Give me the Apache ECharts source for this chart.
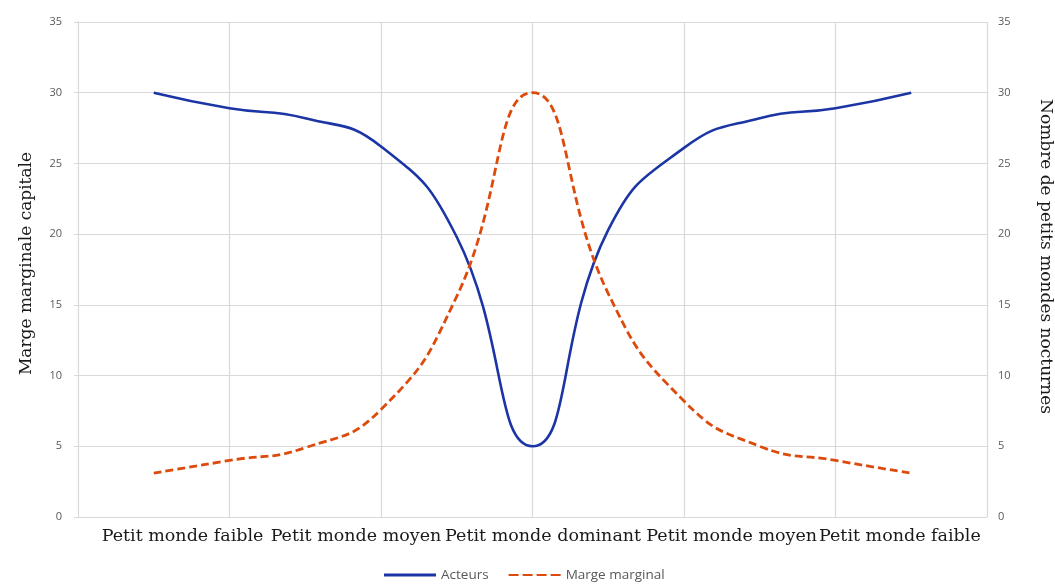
<!DOCTYPE html>
<html><head><meta charset="utf-8">
<script src="https://cdn.jsdelivr.net/npm/echarts@6/dist/echarts.min.js"></script>
<style>html,body{margin:0;padding:0;background:#fff}#c{width:1055px;height:588px}</style>
</head><body><div id="c"></div>
<script>
const xPositions = [1, 2, 3, 4, 5, 6, 7, 8, 9, 10, 11];
const acteurs = [30, 28.9, 28.2, 26.2, 19.8, 5, 20.3, 26.1, 28.2, 28.9, 30];
const margeMarginal = [3.1, 4.0, 4.9, 7.6, 15.6, 30, 15.8, 8.2, 5.0, 4.0, 3.1];
const categoryLabels = ['Petit monde faible', 'Petit monde moyen', 'Petit monde dominant', 'Petit monde moyen', 'Petit monde faible'];
// where each category label is centred along the 0..12 x scale (layout, not data)
const categoryLabelAt = [1.38, 3.67, 6.14, 8.63, 10.85];

const serif = '"DejaVu Serif", "Liberation Serif", serif';
const sans = '"Open Sans", Lato, sans-serif';
const gridColor = '#d9d9d9';
const blue = '#1c35a5';
const orange = '#dc4a0c';

const chart = echarts.init(document.getElementById('c'), null, {renderer: 'canvas'});
chart.setOption({
  animation: false,
  backgroundColor: '#fff',
  grid: [
    {left: 78, right: 68, top: 22, bottom: 71, containLabel: false, outerBoundsMode: 'none'}
  ],
  legend: {
    bottom: 1, left: 379, itemWidth: 52, itemHeight: 3, itemGap: 20,
    textStyle: {fontFamily: sans, fontSize: 13.5, color: '#595959'},
    data: [
      {name: 'Acteurs', icon: 'rect', itemStyle: {color: blue, borderWidth: 0}},
      {name: 'Marge marginal', icon: 'path://M0,0h10v2h-10z M14,0h10v2h-10z M28,0h10v2h-10z M42,0h10v2h-10z',
       itemStyle: {color: orange, borderWidth: 0, opacity: 1}}
    ]
  },
  xAxis: [
    {
      type: 'value', gridIndex: 0, min: 0, max: 12, interval: 2,
      axisLine: {show: true, lineStyle: {color: gridColor}},
      axisTick: {show: false},
      axisLabel: {show: false},
      splitLine: {show: true, lineStyle: {color: gridColor, width: 1.2}}
    },
    {
      type: 'value', gridIndex: 0, min: 0, max: 12, position: 'bottom',
      axisLine: {show: false}, axisTick: {show: false}, splitLine: {show: false},
      axisLabel: {
        customValues: categoryLabelAt,
        formatter: v => {
          const i = categoryLabelAt.indexOf(v);
          return i >= 0 ? categoryLabels[i] : '';
        },
        fontFamily: serif, fontSize: 17.5, color: '#1a1a1a', margin: 10,
        showMinLabel: true, showMaxLabel: true, hideOverlap: false
      }
    }
  ],
  yAxis: [
    {
      type: 'value', gridIndex: 0, min: 0, max: 35, interval: 5, position: 'left',
      name: 'Marge marginale capitale', nameLocation: 'middle', nameGap: 43,
      nameTextStyle: {fontFamily: serif, fontSize: 17, color: '#1a1a1a', padding: [0, 0, 0, 12]},
      axisLine: {show: true, lineStyle: {color: gridColor}},
      axisTick: {show: true, length: 4, lineStyle: {color: gridColor}},
      axisLabel: {fontFamily: sans, fontSize: 11, color: '#595959', margin: 16},
      splitLine: {show: true, lineStyle: {color: gridColor, width: 1.2}}
    },
    {
      type: 'value', gridIndex: 0, min: 0, max: 35, interval: 5, position: 'right',
      name: 'Nombre de petits mondes nocturnes', nameLocation: 'middle', nameGap: 50, nameRotate: -90,
      nameTextStyle: {fontFamily: serif, fontSize: 17, color: '#1a1a1a', padding: [0, 26, 0, 0]},
      axisLine: {show: true, lineStyle: {color: gridColor}},
      axisTick: {show: true, length: 4, lineStyle: {color: gridColor}},
      axisLabel: {fontFamily: sans, fontSize: 11, color: '#595959', margin: 11},
      splitLine: {show: false}
    }
  ],
  series: [
    {
      name: 'Acteurs', type: 'line', xAxisIndex: 0, yAxisIndex: 0,
      data: xPositions.map((x, i) => [x, acteurs[i]]),
      smooth: 0.5, showSymbol: false, symbol: 'none',
      lineStyle: {color: blue, width: 2.6}, itemStyle: {color: blue}
    },
    {
      name: 'Marge marginal', type: 'line', xAxisIndex: 0, yAxisIndex: 1,
      data: xPositions.map((x, i) => [x, margeMarginal[i]]),
      smooth: 0.5, showSymbol: false, symbol: 'none',
      lineStyle: {color: orange, width: 2.8, type: [8, 4]}, itemStyle: {color: orange}
    }
  ]
});
</script></body></html>
